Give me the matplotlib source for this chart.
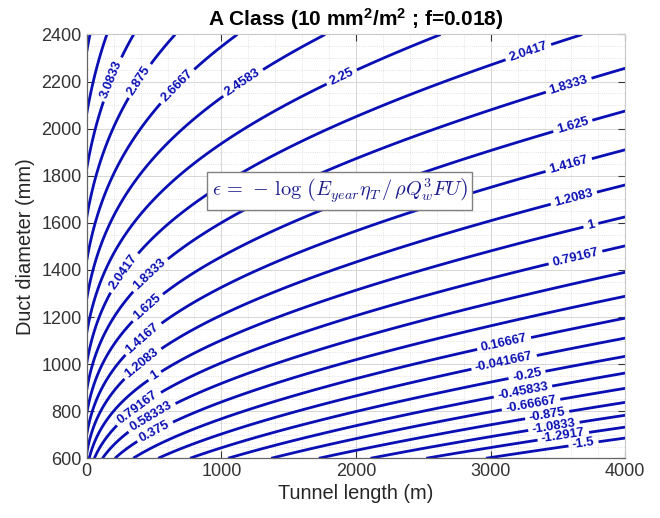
import numpy as np
import matplotlib
matplotlib.use("Agg")
import matplotlib.pyplot as plt
from matplotlib.ticker import MultipleLocator

# ---- grid of the design space ----
tunnel_length_m = np.linspace(0.0, 4000.0, 401)
duct_diameter_mm = np.linspace(600.0, 2400.0, 361)
x_ticks = [0, 1000, 2000, 3000, 4000]
y_ticks = [600, 800, 1000, 1200, 1400, 1600, 1800, 2000, 2200, 2400]

# ---- duct model constants ----
friction_factor = 0.018      # Darcy friction factor f
minor_loss_coeff = 1.364     # entry/exit losses
leakage_coeff = 0.0804       # leakage class A (10 mm2/m2)
eps_offset = 2.033           # energy / price normalisation

# ---- contour levels ----
levels = [-1.5, -1.2917, -1.0833, -0.875, -0.66667, -0.45833, -0.25,
          -0.041667, 0.16667, 0.375, 0.58333, 0.79167, 1, 1.2083, 1.4167,
          1.625, 1.8333, 2.0417, 2.25, 2.4583, 2.6667, 2.875, 3.0833,
          3.2917, 3.5]

# label anchors per level (tunnel length, duct diameter)
label_spots = {
    3.0833: [(190, 2207)],
    2.875: [(383, 2204)],
    2.6667: [(668, 2185)],
    2.4583: [(1150, 2207)],
    2.25: [(1886, 2228)],
    2.0417: [(309, 1378), (3291, 2313)],
    1.8333: [(470, 1378), (3575, 2185)],
    1.625: [(445, 1244), (3612, 2008)],
    1.4167: [(396, 1124), (3588, 1838)],
    1.2083: [(396, 1018), (3612, 1711)],
    1: [(500, 954), (3749, 1584)],
    0.79167: [(383, 819), (3637, 1442)],
    0.58333: [(482, 777)],
    0.375: [(507, 713)],
    0.16667: [(3105, 1081)],
    -0.041667: [(3105, 996)],
    -0.25: [(3266, 954)],
    -0.45833: [(3241, 883)],
    -0.66667: [(3303, 826)],
    -0.875: [(3415, 791)],
    -1.0833: [(3464, 749)],
    -1.2917: [(3538, 706)],
    -1.5: [(3687, 678)],
}

line_color = "#0a0fb4"

plt.rcParams["font.family"] = ["Liberation Sans", "DejaVu Sans"]
plt.rcParams["mathtext.fontset"] = "custom"
plt.rcParams["mathtext.rm"] = "Liberation Sans"
plt.rcParams["mathtext.bf"] = "Liberation Sans:bold"
plt.rcParams["mathtext.it"] = "Liberation Sans:italic"

L, Dmm = np.meshgrid(tunnel_length_m, duct_diameter_mm)
D = Dmm / 1000.0
eps = (eps_offset + 4.0 * np.log10(D)
       - np.log10(1.0 + friction_factor * L / (minor_loss_coeff * D))
       - 3.0 * np.log10(1.0 + leakage_coeff * (L / 1000.0 / D) ** 1.5))

fig = plt.figure(figsize=(6.6, 5.18), dpi=100)
ax = fig.add_axes([0.1314, 0.1153, 0.8160, 0.8181])
ax.set_axisbelow(True)
ax.set_xlim(0, 4000)
ax.set_ylim(600, 2400)

cs = ax.contour(L, Dmm, eps, levels=levels, colors=line_color,
                linewidths=2.0, negative_linestyles="solid")

# snap every label anchor onto its own contour line (in screen space)
manual_pts = []
paths = cs.get_paths()
for lev, spots in label_spots.items():
    idx = int(np.argmin(np.abs(np.asarray(cs.levels) - lev)))
    verts = paths[idx].vertices
    vpix = ax.transData.transform(verts)
    for sx, sy in spots:
        p = ax.transData.transform((sx, sy))
        k = int(np.argmin(np.hypot(vpix[:, 0] - p[0], vpix[:, 1] - p[1])))
        manual_pts.append(tuple(verts[k]))

plt.rcParams["font.weight"] = "bold"
cs.clabel(manual=manual_pts, inline=True, inline_spacing=4,
          fontsize=9.4, fmt=lambda v: f"{v:.5g}", colors=line_color)
plt.rcParams["font.weight"] = "normal"

ax.set_xticks(x_ticks)
ax.set_yticks(y_ticks)
ax.xaxis.set_minor_locator(MultipleLocator(200))
ax.yaxis.set_minor_locator(MultipleLocator(50))
ax.grid(which="major", color="#d6d6d6", linewidth=0.7, linestyle="-")
ax.grid(which="minor", color="#d9d9d9", linewidth=0.6, linestyle=":")
ax.tick_params(which="major", direction="in", length=5, width=0.8,
               labelsize=13, colors="#333333", top=True, right=True)
ax.tick_params(which="minor", length=0)
for side in ("left", "bottom"):
    ax.spines[side].set_color("#666666")
    ax.spines[side].set_linewidth(0.9)
for side in ("top", "right"):
    ax.spines[side].set_color("#c8c8c8")
    ax.spines[side].set_linewidth(0.8)

ax.set_xlabel("Tunnel length (m)", fontsize=14.4, color="#262626", labelpad=3)
ax.set_ylabel("Duct diameter (mm)", fontsize=14.4, color="#262626", labelpad=5)
ax.set_title(r"A Class (10 mm$^{\mathbf{2}}$/m$^{\mathbf{2}}$ ; f=0.018)",
             fontsize=15, fontweight="bold", pad=6)

ax.text(1880, 1735,
        r"$\epsilon\,=\,-\,\log\,\left(E_{year}\eta_T\,/\,\rho Q_w^3 F U\right)$",
        math_fontfamily="cm", fontsize=14.6, ha="center", va="center",
        color="#1c1c8c",
        bbox=dict(boxstyle="square,pad=0.22", fc="white", ec="#808080",
                  lw=1.0))

fig.savefig("out.png", dpi=100)
